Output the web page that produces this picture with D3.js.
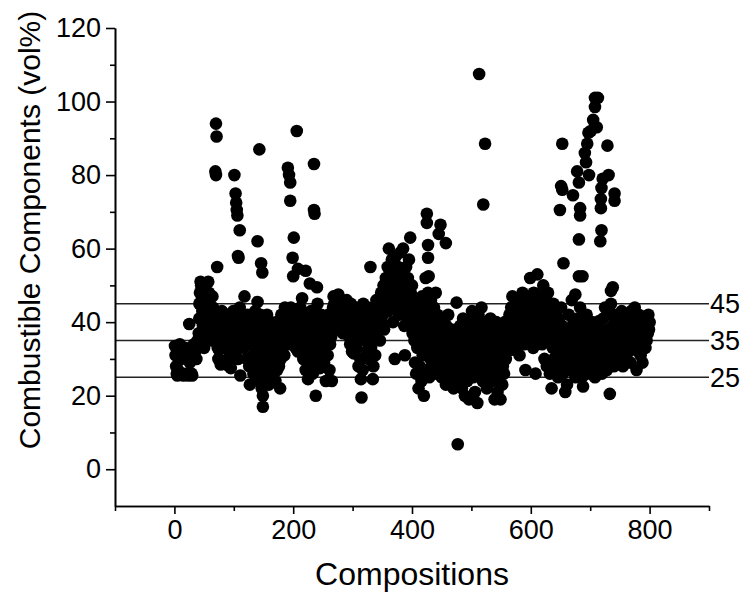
<!DOCTYPE html>
<html>
<head>
<meta charset="utf-8">
<script src="https://cdn.jsdelivr.net/npm/d3@7"></script>
<style>
  html, body { margin: 0; padding: 0; background: #fff; }
  text { font-family: "Liberation Sans", Arial, sans-serif; fill: #000; }
</style>
</head>
<body>
<div id="chart"></div>
<script>
var total_width = 740;
var total_height = 601;

// axis ticks
var xMajor = [0, 200, 400, 600, 800];
var xMinor = [-100, 100, 300, 500, 700, 900];
var yMajor = [0, 20, 40, 60, 80, 100, 120];
var yMinor = [10, 30, 50, 70, 90, 110];

// reference levels drawn across the plot
var refLevels = [45, 35, 25];

// main band of compositions [composition, vol%]
var band = [
  [1,33.5],[2,31],[3,28],[4,26],[5,25.5],[6,27],[8,32],[9,34],[11,30],[13,26],[15,25.5],[17,33],[19,31],[21,26],[23,25.5],[25,39.5],[26,29],[27,33],[29,26],[30,25.5],[31,31],[33,34],[35,32],[37,30],[39,35],
  [40,34],[41,37],[42,41],[42,45],[43,48],[44,51],[45,50],[46,46],[47,43],[48,39],[49,36],[50,33],[51,49],[52,47],[53,44],[54,42],[55,40],[56,38],[57,51],[58,48],[59,45],[60,43],[61,40],[62,37],[63,35],[64,47],[65,44],[66,41],[67,38],
  [69,40],[70,38],[71,42],[72,36],[73,33],[74,30],[75,32.5],[76,39],[77,41],[78,28.5],[79,37],[80,43],[81,35],[82,39],[84,41],[85,33],[86,38],[88,42],[89,36],[90,30],[91,40],[92,28],[93,38],[95,27.5],[96,42],[97,34],[98,39],[99,43],[101,37],[102,32],[104,40],[105,36],[106,42],[107,30],[108,38],[110,44],[111,25.5],[112,35],[113,40],[114,38],[116,33],[117,41],[118,47],[119,36],[121,39],[122,30],[123,42],
  [125,34],[126,28],[127,23],[128,38],[129,41],[131,36],[132,31],[133,26],[134,40],[136,43],[137,33],[138,29],[139,37],[140,45.5],[141,39],[142,24],[143,35],[144,30],[145,42],[146,27],[147,22],[148,36],[149,20],[149,17],[150,33],[151,40],[152,28],[153,38],[154,25],[155,31],[156,42],[157,35],[158,29],[159,23],[160,37],[161,33],[162,40],[163,27],[164,31],[165,26],[166,38],[167,33],[168,29],[169,35],[170,24],[171,30],[172,40],[173,27],[174,32],[175,37],[176,28],[177,34],[178,22],[179,30],[180,42],[181,36],[182,33],[183,40],[184,38],[185,31],[186,44],[187,39],
  [189,40],[190,37],[191,42],[192,34],[193,39],[194,41],[195,36],[196,44],[197,38],[198,40],[199,35],[200,42],[201,39],[202,37],[203,41],[204,33],[205,38],[206,40],[207,43],[208,32],[209,36],[210,41],[211,39],[212,44],[213,37],[214,35],[215,46.5],[216,40],[217,30],[218,38],[219,42],[220,36],[221,27],[222,39],[223,33],[224,41],[225,24.5],[226,37],[227,29],[228,40],[229,35],[230,43],[231,31],[232,38],[233,26],[234,36],[235,41],[236,28],[237,33],[238,20],[239,38],[240,30],[241,45],[242,36],[243,34],[244,40],[245,27.5],[246,32],[247,42],
  [249,38],[250,35],[251,41],[252,29],[253,37],[254,33],[255,24],[256,40],[257,36],[258,31],[259,42],[260,38],[261,27],[262,34],[263,39],[264,36],[265,24],[266,41],[267,44],[268,47],[269,45],[270,43],[271,40],[272,46],[273,38],[274,44],[275,41],[276,47.5],[277,42],[278,39],[279,45],[280,43],[281,46],[282,40],[283,44],[284,37],[285,42],[286,45],[287,39],[288,43],[289,41],[290,46],[291,38],[292,44],[293,40],[294,36],[295,42],[296,34],[297,45],[298,39],[299,32],[300,41],[301,37],[302,31.5],[303,43],[304,35],[305,40],[306,33],[307,44],[308,38],[309,42],[310,28],[311,36],[312,40],[313,30],[314,24.5],[315,19.5],[316,42],[317,27],[318,45],[319,38],[320,41],[321,35],[322,43],[323,32],[324,40],[325,37],[326,44],[327,30],[328,42],[329,39],[331,33],[332,41],[333,36],[334,24.5],[335,28],[336,38],[337,44],[338,31],
  [339,40],[340,46],[341,37],[342,43],[343,39],[344,45],[345,41],[346,35],[347,44],[348,48],[349,40],[350,46],[351,42],[352,50],[353,38],[354,47],[355,44],[356,52],[357,45],[358,49],[359,55],[360,43],[362,51],[363,46],[364,53],[365,48],[366,57],[367,44],[368,40],[369,50],[370,54],[371,30],[372,47],[373,58],[374,52],[375,45],[376,49],[377,55],[378,42],[379,51],[380,48],[381,59],[382,46],[383,53],[384,44],[386,50],[387,39],[388,31],[389,47],[390,55],[391,42],[392,49],[393,52],[394,45],[395,57],[396,40],[398,48],[399,43],[400,50],[401,37],[402,46],[403,41],[404,35],[405,29],[406,44],[407,26],
  [408,40],[409,33],[410,45],[411,22],[412,38],[413,28],[414,42],[415,36],[416,24],[417,47],[418,31],[419,39],[420,20],[421,44],[422,35],[423,52],[424,27],[425,41],[426,33],[427,48],[428,37],[429,25],[430,43],[431,30],[432,46],[433,38],[434,34],[435,40],[436,28],[437,44],[438,36],[439,32],[440,48],[441,26],[442,39],[443,42],[444,35],[445,31],[446,37],[447,29],[448,41],[449,34],[450,25],[451,38],[452,33],[453,40],[454,27],[455,36],[456,31],[457,23],[458,39],[459,34],[460,28],[461,42],[462,30],[463,26],[464,36],[465,32],[466,24],[467,38],[468,29],[469,35],[470,22],[471,31],[472,27],[473,34],[474,25],[475,30],
  [476,33],[477,28],[478,36],[479,24],[480,31],[481,39],[482,27],[483,34],[484,22],[485,30],[486,41],[487,26],[488,35],[489,20],[490,32],[491,38],[492,28],[493,24],[494,36],[495,30],[496,19],[497,33],[498,40],[499,27],[500,35],[501,43],[502,29],[503,25],[504,37],[505,31],[506,21],[507,34],[508,39],[509,28],[510,18],[511,36],[512,42],[513,30],[514,26],[515,38],[516,33],[517,44],[518,29],[519,24],[520,35],[521,40],[522,31],[523,27],[524,37],[525,33],[526,22],[527,39],[528,30],[529,36],[530,26],[531,34],[532,41],[533,28],[534,32],[535,38],[536,24],[537,35],[538,30],[539,19],[540,36],[541,27],[542,40],[543,33],[544,21],[545,29],[546,37],[547,25],[548,34],[549,19],[550,31],[551,38],[552,23],[553,28],[554,35],[555,26],[556,40],[557,32],[558,30],[559,36],[560,38],
  [561,34],[562,40],[563,37],[564,42],[565,35],[566,39],[567,44],[568,32.5],[569,47],[570,38],[571,41],[572,36],[573,43],[574,33],[575,39],[576,46],[577,37],[578,42],[579,35],[580,40],[581,31],[582,44],[583,38],[584,41],[585,36],[586,48],[587,39],[588,43],[589,34],[590,40],[591,27],[592,45],[593,37],[594,42],[595,47],[596,39],[597,44],[598,36],[599,52],[600,41],[601,46],[602,38],[603,43],[604,33],[605,48],[606,40],[607,45],[608,26],[609,42],[610,37],[611,53],[612,44],[613,39],[614,47],[615,35],
  [616,41],[617,38],[618,45],[619,34],[620,43],[621,50],[622,39],[623,30],[624,46],[625,36],[626,42],[627,28],[628,40],[629,48],[630,35],[631,44],[632,26],[633,38],[634,42],[635,22],[636,37],[637,33],[638,45],[639,30],[640,40],[641,27],[642,43],[643,35],[644,31],[645,38],[646,25],[647,41],[648,33],[649,36],[650,29],[651,44],[652,31],[653,39],[654,26],[655,34],[656,37],[657,30],[658,21],[659,35],[660,28],[661,23],[662,38],[663,32],[664,42],[665,27],[666,33],[667,36],[668,30],[669,46],[670,34],[671,28],[672,40],[673,31],[674,37],[675,25],
  [676,32],[677,38],[678,29],[679,41],[680,35],[681,27],[682,33],[683,44],[684,30],[685,37],[686,25],[687,40],[688,22.5],[689,34],[690,31],[691,39],[692,28],[693,36],[694,42],[695,26],[696,33],[697,38],[698,30],[699,29],[700,35],[701,34.5],[702,27],[703,40],[704,32],[705,37],[706,29],[707,33],[708,25],[709,39],[710,31],[711,36],[712,28],[713,34],[714,30],[715,40.3],[716,32],[717,28],[718,38],[719,35],[720,26],[721,30],[722,41],[723,33],[724,29],[725,44],[726,36],[727,31],[728,27],[729,43],[730,38],[731,34],[732,30],[733,20.5],[734,37],[735,45],[736,33],[737,29],[738,39],[739,42],[740,28],
  [741,36],[742,40],[743,31],[744,38],[745,34],[746,42],[747,29],[748,37],[749,33],[750,40],[751,35],[752,31],[753,43],[754,38],[755,28],[756,36],[757,41],[758,33],[759,39],[760,30],[761,37],[762,42],[763,34],[764,38],[765,32],[766,40],[767,36],[768,29],[769,43],[770,35],[771,39],[772,33],[773,41],[774,37],[775,44],[776,34],[777,40],[778,27],[779,36],[780,38],[781,32],[782,42],[783,35],[784,39],[785,31],[786,37],[787,41],[788,29],[789,34],[790,38],[791,40],[792,36],[793,33],[794,39],[795,35],[796,41],[797,37],[798,42],[799,38],[800,40]
];

// high / low scattered compositions
var outliers = [
  [70,94],[71,90.5],[69,81],[70,80],[72,55],[101,80],[103,75],[104,72.5],[105,70.5],[106,69],[110,65],[107,58],[108,57.5],
  [143,87],[140,62],[146,56],[148,53.5],[191,82],[193,80],[195,78],[195,73],[206,92],[201,63],[199,57.5],[200,52.5],[208,54.5],
  [235,83],[235,70.5],[236,69.5],[221,54],[228,50.5],[240,49.5],[330,55],[361,60],[385,60],[397,63],
  [425,69.5],[425,67],[448,66.5],[445,64],[457,61.5],[427,61],[427,57.5],[428,52.5],
  [477,6.8],[475,45.3],[513,107.5],[523,88.5],[520,72],
  [653,88.5],[651,77],[653,76],[649,70.5],[655,56],[671,74.5],[678,81],[681,78],[683,71],[683,69],[681,62.5],[675,47.5],[681,52.5],[687,52.5],
  [698,80],[693,83.5],[691,86],[695,88.5],[697,91.5],[705,95],[708,98.5],[708,101],[713,101],[711,93],[701,92],
  [729,88],[731,80],[721,79],[719,76.5],[741,75],[741,73],[718,73.5],[718,71],[719,65],[717,62],[738,49.5],[735,48.5]
];

var svg = d3.select('#chart').append('svg')
            .attr("width", total_width)
            .attr("height", total_height)
            .style("display", "block");

var x = d3.scaleLinear().domain([-100, 900]).range([115, 709]);
var y = d3.scaleLinear().domain([-10, 120]).range([506, 28]);

// reference lines
svg.selectAll(".ref")
   .data(refLevels)
   .enter().append("line")
   .attr("x1", x(-100)).attr("x2", x(900))
   .attr("y1", d => y(d)).attr("y2", d => y(d))
   .style("stroke", "#222")
   .style("stroke-width", 1.6);

svg.selectAll(".refLabel")
   .data(refLevels)
   .enter().append("text")
   .attr("x", x(900) + 1)
   .attr("y", d => y(d))
   .attr("dy", "0.36em")
   .style("font-size", "27px")
   .text(d => d);

// points
svg.append("g")
   .selectAll("circle")
   .data(band.concat(outliers))
   .enter().append("circle")
   .attr("cx", d => x(d[0]))
   .attr("cy", d => y(d[1]))
   .attr("r", 6.3)
   .style("fill", "#000");

// axes
function styleAxis(g) {
  g.selectAll("path").style("stroke", "#000").style("stroke-width", 1.6);
  g.selectAll("line").style("stroke", "#000").style("stroke-width", 1.6);
  g.selectAll("text").style("font-family", '"Liberation Sans", Arial, sans-serif')
                      .style("font-size", "27px").style("fill", "#000");
}

var xAxis = d3.axisBottom(x).tickValues(xMajor).tickSize(8).tickSizeOuter(0).tickPadding(6);
var xMinorAxis = d3.axisBottom(x).tickValues(xMinor).tickSize(5).tickSizeOuter(0).tickFormat("");
var yAxis = d3.axisLeft(y).tickValues(yMajor).tickSize(9).tickSizeOuter(0).tickPadding(5);
var yMinorAxis = d3.axisLeft(y).tickValues(yMinor).tickSize(5).tickSizeOuter(0).tickFormat("");

svg.append("g").attr("transform", "translate(0," + y(-10) + ")").call(xMinorAxis).call(styleAxis);
svg.append("g").attr("transform", "translate(0," + y(-10) + ")").call(xAxis).call(styleAxis);
svg.append("g").attr("transform", "translate(" + x(-100) + ",0)").call(yMinorAxis).call(styleAxis);
svg.append("g").attr("transform", "translate(" + x(-100) + ",0)").call(yAxis).call(styleAxis);

// titles
svg.append("text")
   .attr("x", x(400))
   .attr("y", 585)
   .style("text-anchor", "middle")
   .style("font-size", "32px")
   .text("Compositions");

svg.append("text")
   .attr("transform", "translate(40,230) rotate(-90)")
   .style("text-anchor", "middle")
   .style("font-size", "30px")
   .text("Combustible Components (vol%)");
</script>
</body>
</html>
